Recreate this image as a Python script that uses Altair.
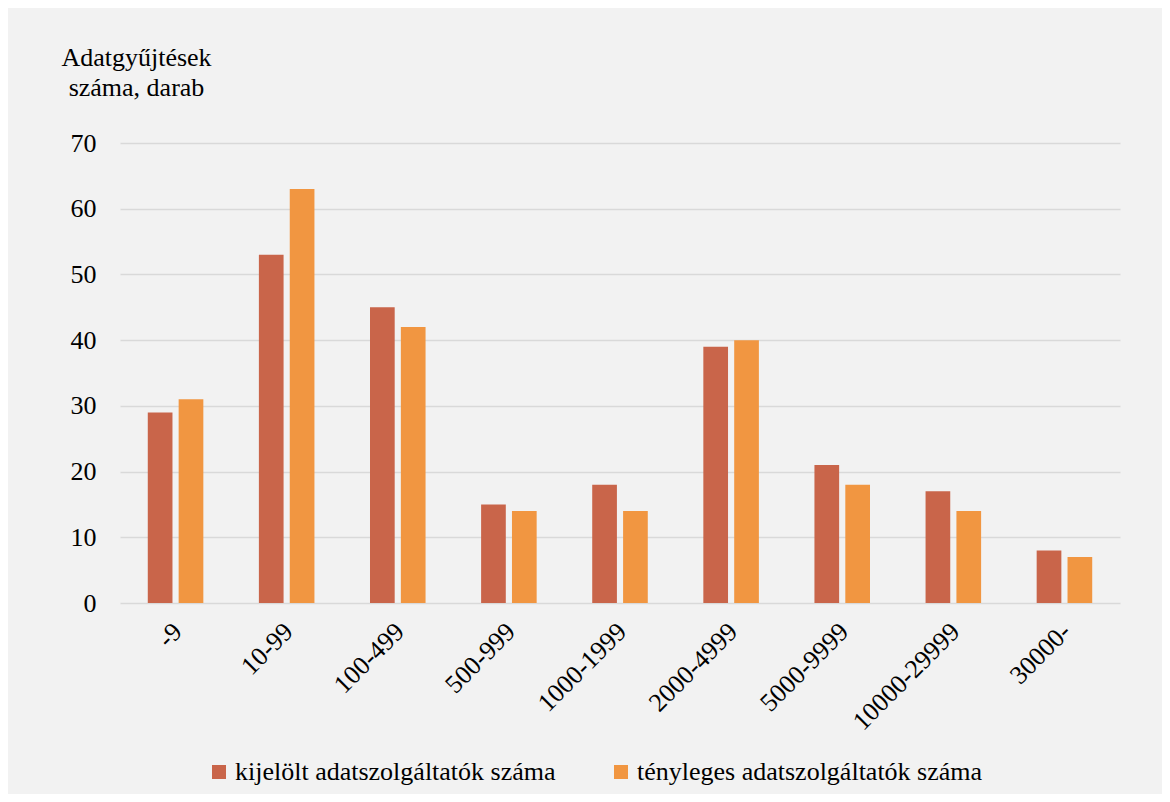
import altair as alt
import pandas as pd

categories = ["-9", "10-99", "100-499", "500-999", "1000-1999", "2000-4999",
              "5000-9999", "10000-29999", "30000-"]
kijelolt = [29, 53, 45, 15, 18, 39, 21, 17, 8]
tenyleges = [31, 63, 42, 14, 14, 40, 18, 14, 7]
series = ["kijelölt adatszolgáltatók száma", "tényleges adatszolgáltatók száma"]
colors = ["#c9654a", "#f19641"]

rows = []
for c, a, b in zip(categories, kijelolt, tenyleges):
    rows.append({"kat": c, "sor": series[0], "ertek": a})
    rows.append({"kat": c, "sor": series[1], "ertek": b})
df = pd.DataFrame(rows)

FONT = "Liberation Serif"
FS = 26

chart = alt.Chart(df).mark_bar().encode(
    x=alt.X("kat:N", sort=categories,
            scale=alt.Scale(paddingInner=0.5, paddingOuter=0.25),
            axis=alt.Axis(title=None, labelAngle=-45, labelFontSize=FS,
                          labelFont=FONT, labelColor="#000000", domain=False,
                          ticks=False, labelPadding=15, labelOffset=-7)),
    xOffset=alt.XOffset("sor:N", sort=series,
                        scale=alt.Scale(paddingInner=0.2)),
    y=alt.Y("ertek:Q", scale=alt.Scale(domain=[0, 70]),
            axis=alt.Axis(values=[0, 10, 20, 30, 40, 50, 60, 70],
                          title=["Adatgyűjtések", "száma, darab"],
                          titleAngle=0, titleAlign="center",
                          titleBaseline="alphabetic", titleX=16, titleY=-78,
                          titleFont=FONT, titleFontSize=FS,
                          titleFontWeight="normal", titleColor="#000000",
                          titleLineHeight=30,
                          labelFont=FONT, labelFontSize=FS,
                          labelColor="#000000", labelPadding=24,
                          domain=False, ticks=False,
                          gridColor="#d9d9d9", gridWidth=1.5)),
    color=alt.Color("sor:N", sort=series,
                    scale=alt.Scale(domain=series, range=colors),
                    legend=alt.Legend(title=None, orient="none",
                                      direction="horizontal",
                                      legendX=86, legendY=616,
                                      symbolType="square", symbolSize=196,
                                      symbolStrokeWidth=0,
                                      labelFont=FONT, labelFontSize=FS,
                                      labelColor="#000000", labelLimit=500,
                                      columnPadding=52, labelOffset=3)),
).properties(
    width=1000, height=460,
    background="#f2f2f2",
    padding={"left": 112, "top": 135, "right": 42, "bottom": 191},
    autosize=alt.AutoSizeParams(type="none"),
).configure_view(stroke=None)

chart.save("out.html", embed_options={"renderer": "svg", "actions": False})
